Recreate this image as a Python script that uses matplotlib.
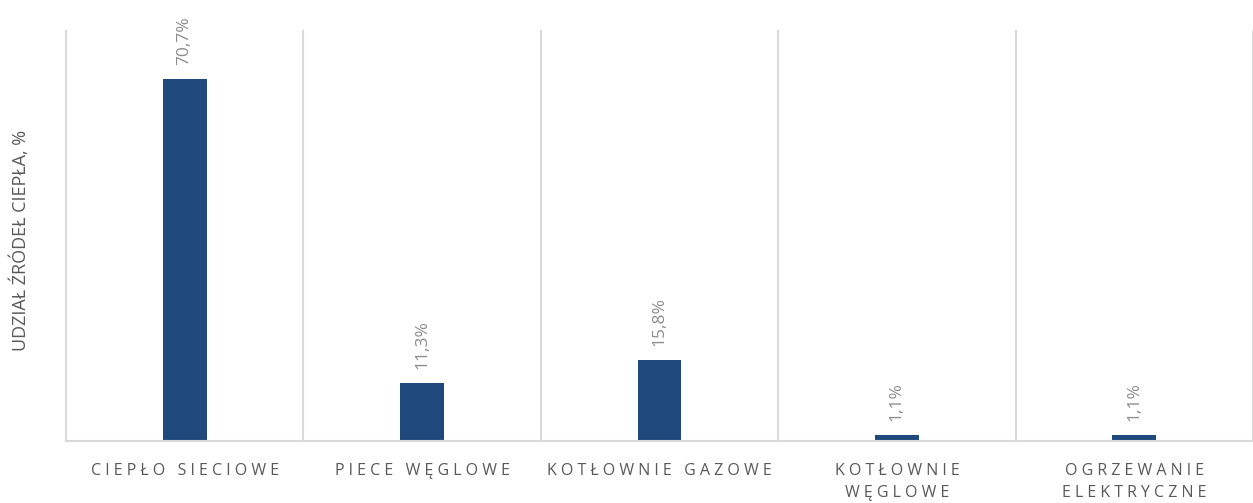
import matplotlib
matplotlib.use('Agg')
import matplotlib.pyplot as plt
import numpy as np

categories = ['CIEPŁO SIECIOWE', 'PIECE WĘGLOWE', 'KOTŁOWNIE GAZOWE',
              'KOTŁOWNIE\nWĘGLOWE', 'OGRZEWANIE\nELEKTRYCZNE']
shares = [70.7, 11.3, 15.8, 1.1, 1.1]
value_labels = ['70,7%', '11,3%', '15,8%', '1,1%', '1,1%']
y_title = 'UDZIAŁ ŹRÓDEŁ CIEPŁA, %'

plt.rcParams['font.family'] = ['Open Sans', 'DejaVu Sans']

BAR = '#1F497D'
GRID = '#D9D9D9'


def tracked(s):
    # fake letter spacing: space between letters, wider gap between words
    lines = []
    for line in s.split('\n'):
        lines.append('   '.join(' '.join(w) for w in line.split(' ')))
    return '\n'.join(lines)


fig = plt.figure(figsize=(12.53, 5.03), dpi=100)
ax = fig.add_axes([66/1253, 62/503, (1253-66)/1253, (441-31)/503])

x = np.arange(len(categories))
ax.bar(x, shares, width=0.185, color=BAR, zorder=3)

ax.set_xlim(-0.5, len(categories) - 0.5)
ax.set_ylim(0, 80)

for b in np.arange(len(categories) + 1) - 0.5:
    ax.axvline(b, color=GRID, lw=1.5, zorder=1, clip_on=False)

for xi, v, lab in zip(x, shares, value_labels):
    ax.annotate(lab, (xi, v), xytext=(0, 10), textcoords='offset points',
                rotation=90, ha='center', va='bottom', fontsize=12.5,
                color='#8C8C8C')

ax.set_xticks(x)
ax.set_xticklabels([tracked(c) for c in categories], fontsize=11.5,
                   color='#595959', linespacing=1.5)
ax.tick_params(axis='x', length=0, pad=16)
ax.set_yticks([])

for side in ['top', 'right', 'left']:
    ax.spines[side].set_visible(False)
ax.spines['bottom'].set_color(GRID)
ax.spines['bottom'].set_linewidth(1.5)
ax.spines['bottom'].set_zorder(4)

fig.text(20/1253, 1 - 240/503, y_title, rotation=90, ha='center',
         va='center', fontsize=13, color='#595959')

fig.savefig('out.png', dpi=100)
